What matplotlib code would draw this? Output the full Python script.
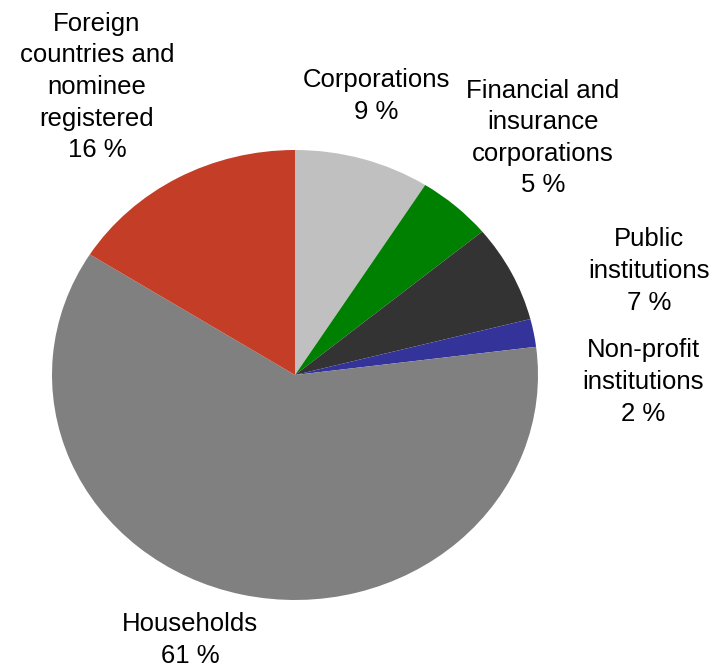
import matplotlib.pyplot as plt

plt.rcParams['font.family'] = ['Liberation Sans', 'DejaVu Sans']

# shares of ownership, clockwise from 12 o'clock
sectors = ['Corporations', 'Financial and\ninsurance\ncorporations',
           'Public\ninstitutions', 'Non-profit\ninstitutions',
           'Households', 'Foreign\ncountries and\nnominee\nregistered']
shares = [9, 5, 7, 2, 61, 16]
colours = ['#C0C0C0', '#008000', '#333333', '#333399', '#808080', '#C43E27']

W, H = 713, 663
fig = plt.figure(figsize=(W / 100, H / 100), dpi=100)
fig.patch.set_facecolor('white')

# pie area: slightly wider than tall
ax = fig.add_axes([52 / W, (H - 600) / H, 486 / W, 450 / H])
ax.pie(shares, colors=colours, startangle=90, counterclock=False,
       radius=1, wedgeprops={'linewidth': 0})
ax.set_aspect('auto')
ax.set_xlim(-1, 1)
ax.set_ylim(-1, 1)
ax.axis('off')

# label anchors (pixel centres)
spots = [(376, 96), (543, 138), (649, 271), (643, 382), (190, 640), (97, 87)]
for name, val, (px, py) in zip(sectors, shares, spots):
    fig.text(px / W, 1 - py / H, '{}\n{} %'.format(name, val),
             ha='center', va='center', fontsize=18.5, linespacing=1.4,
             color='black')

plt.savefig('out.png', dpi=100)
